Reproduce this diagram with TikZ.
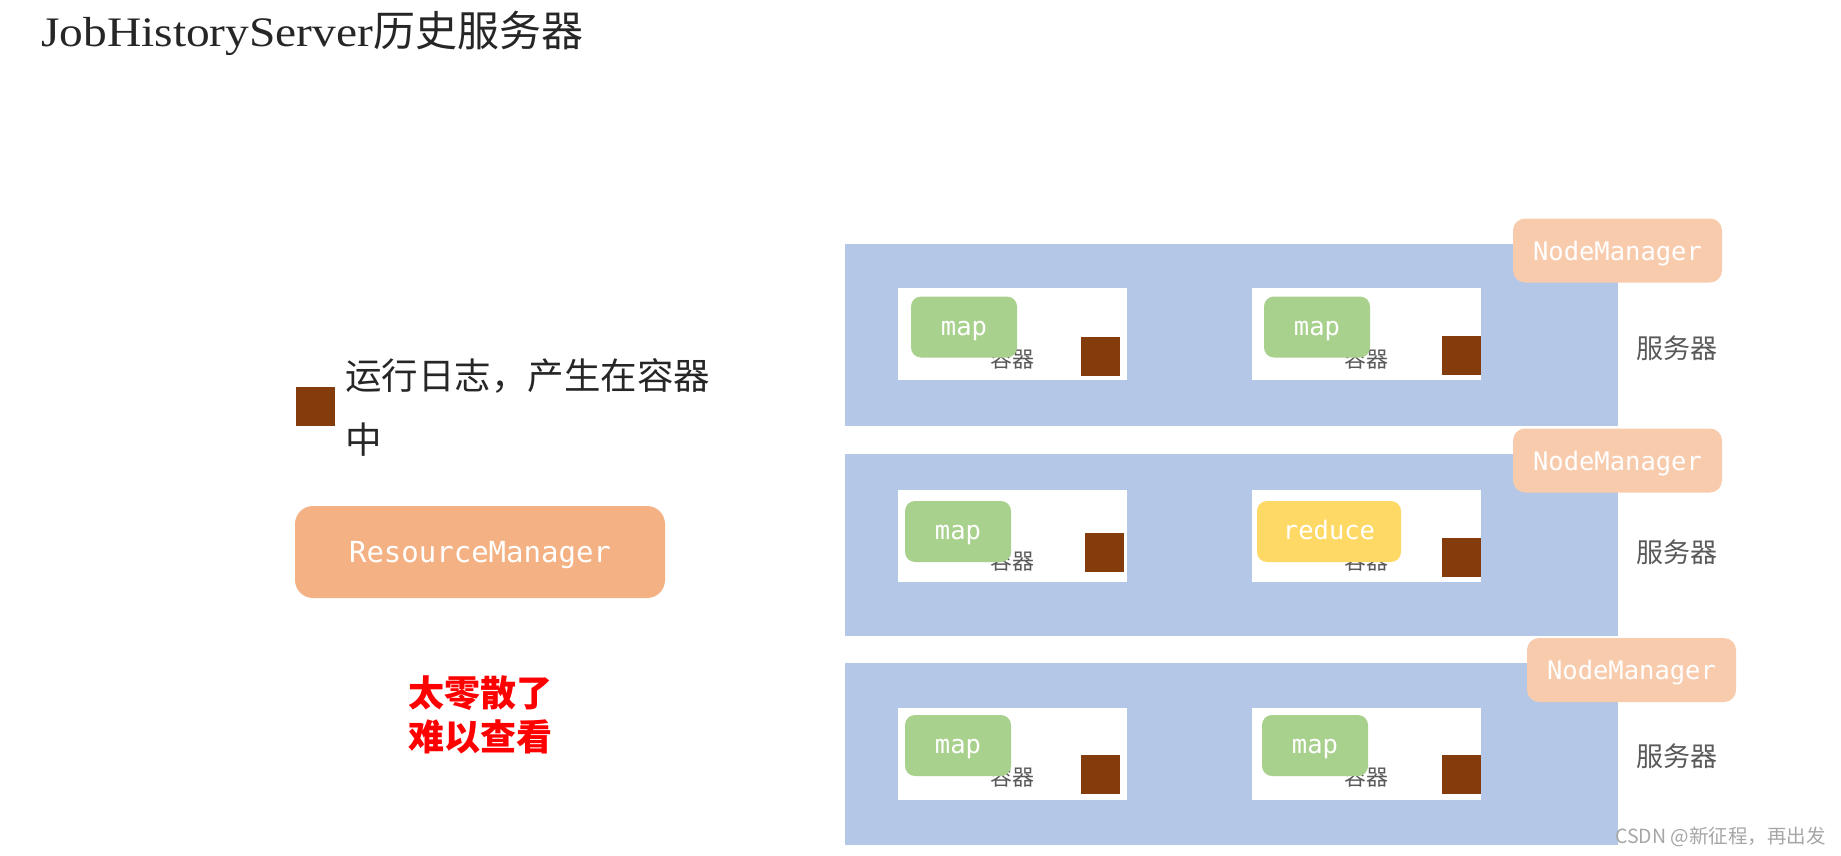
\documentclass[tikz,border=0pt]{standalone}
\usepackage{fontspec}
\setmainfont{Liberation Serif}
\setmonofont{DejaVu Sans Mono}
\newfontfamily\cjk{Noto Sans CJK SC}
\newfontfamily\titlelatin[FakeStretch=1.13]{Liberation Serif}
\definecolor{serverblue}{HTML}{B4C7E7}
\definecolor{mapgreen}{HTML}{A9D18E}
\definecolor{reduceyellow}{HTML}{FFD966}
\definecolor{logbrown}{HTML}{843C0C}
\definecolor{rmorange}{HTML}{F4B183}
\definecolor{nmpeach}{HTML}{F8CBAD}
\definecolor{labelgray}{HTML}{595959}
\definecolor{darktext}{HTML}{262626}
\begin{document}
\begin{tikzpicture}[x=1pt,y=-1pt,
  server/.style={fill=serverblue, draw=none, inner sep=0pt},
  container/.style={fill=white, draw=none, inner sep=0pt, minimum width=229pt, minimum height=92pt},
  conlabel/.style={text=labelgray, font=\cjk\fontsize{22}{22}\selectfont, inner sep=0pt},
  taskbox/.style={draw=none, rounded corners=10pt, text=white, font=\ttfamily\fontsize{25.5}{25.5}\selectfont, inner sep=0pt, minimum height=61pt, text height=16.5pt, text depth=0pt},
  mapbox/.style={taskbox, fill=mapgreen, minimum width=106pt},
  reducebox/.style={taskbox, fill=reduceyellow, minimum width=144pt},
  logsq/.style={fill=logbrown, draw=none, inner sep=0pt, minimum width=39pt, minimum height=39pt},
  nmbox/.style={fill=nmpeach, draw=none, rounded corners=12pt, text=white, font=\ttfamily\fontsize{25.5}{25.5}\selectfont, inner sep=0pt, minimum width=209pt, minimum height=64pt, text height=19.5pt, text depth=0pt},
  srvlabel/.style={text=labelgray, font=\cjk\fontsize{27}{27}\selectfont, inner sep=0pt, anchor=west}
]
\useasboundingbox (0,0) rectangle (1841,856);

% title
\node[anchor=base west, inner sep=0pt, text=darktext] (title) at (41,47)
  {\fontsize{42}{42}\selectfont\titlelatin JobHistoryServer{\cjk 历史服务器}};

% legend
\node[logsq] (legsq) at (315.5,406.5) {};
\node[anchor=west, inner sep=0pt, text=darktext, font=\cjk\fontsize{36.5}{36.5}\selectfont] (legtxt1) at (345,376) {运行日志，产生在容器};
\node[anchor=west, inner sep=0pt, text=darktext, font=\cjk\fontsize{36.5}{36.5}\selectfont] (legtxt2) at (345,440) {中};

% resource manager
\node[fill=rmorange, draw=none, rounded corners=18pt, text=white, inner sep=0pt,
  minimum width=370pt, minimum height=92pt, text height=21.2pt, text depth=0pt,
  font=\ttfamily\fontsize{29}{29}\selectfont] (rm) at (480,552) {ResourceManager};

% red remark
\node[text=red, inner sep=0pt, font=\cjk\bfseries\fontsize{36}{36}\selectfont, anchor=west] (rem1) at (408,693) {太零散了};
\node[text=red, inner sep=0pt, font=\cjk\bfseries\fontsize{36}{36}\selectfont, anchor=west] (rem2) at (408,737) {难以查看};

% servers
\node[server, minimum width=773pt, minimum height=182pt] (s1) at (1231.5,335) {};
\node[server, minimum width=773pt, minimum height=182pt] (s2) at (1231.5,545) {};
\node[server, minimum width=773pt, minimum height=182pt] (s3) at (1231.5,754) {};

% node managers
\node[nmbox] (nm1) at (1617.5,250.5) {NodeManager};
\node[nmbox] (nm2) at (1617.5,460.5) {NodeManager};
\node[nmbox] (nm3) at (1631.5,670) {NodeManager};

% server labels
\node[srvlabel] (sl1) at (1636,348) {服务器};
\node[srvlabel] (sl2) at (1636,552) {服务器};
\node[srvlabel] (sl3) at (1636,756) {服务器};

% row 1
\node[container] (c11) at (1012.5,334) {};
\node[container] (c12) at (1366.5,334) {};
\node[conlabel] (l11) at (1012,359) {容器};
\node[conlabel] (l12) at (1366,359) {容器};
\node[mapbox] (m11) at (964,327) {map};
\node[mapbox] (m12) at (1317,327) {map};
\node[logsq] (g11) at (1100.5,356) {};
\node[logsq] (g12) at (1461.5,355.5) {};

% row 2
\node[container] (c21) at (1012.5,536) {};
\node[container] (c22) at (1366.5,536) {};
\node[conlabel] (l21) at (1012,561) {容器};
\node[conlabel] (l22) at (1366,561) {容器};
\node[mapbox] (m21) at (958,531.5) {map};
\node[reducebox] (m22) at (1329,531.5) {reduce};
\node[logsq] (g21) at (1104.5,552.5) {};
\node[logsq] (g22) at (1461.5,557) {};

% row 3
\node[container] (c31) at (1012.5,754) {};
\node[container] (c32) at (1366.5,754) {};
\node[conlabel] (l31) at (1012,777) {容器};
\node[conlabel] (l32) at (1366,777) {容器};
\node[mapbox] (m31) at (958,745.5) {map};
\node[mapbox] (m32) at (1315,745.5) {map};
\node[logsq] (g31) at (1100.5,774.5) {};
\node[logsq] (g32) at (1461.5,774.5) {};

% watermark
\node[anchor=east, inner sep=0pt, text=gray!70, font=\cjk\fontsize{19.5}{19.5}\selectfont] (wm) at (1826,837) {CSDN @新征程，再出发};
\end{tikzpicture}
\end{document}
